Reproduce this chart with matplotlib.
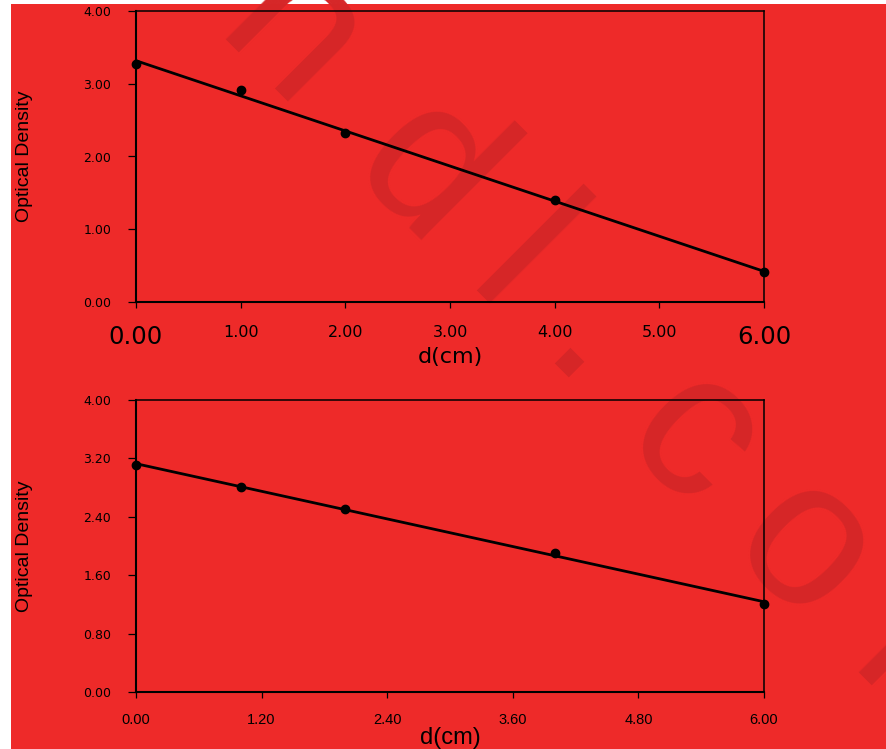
import matplotlib
matplotlib.use('Agg')
import matplotlib.pyplot as plt
import numpy as np
from matplotlib.patches import Rectangle

# data
d_cm = [0.0, 1.0, 2.0, 4.0, 6.0]
od_top = [3.27, 2.91, 2.32, 1.40, 0.41]
od_bottom = [3.11, 2.81, 2.51, 1.90, 1.21]

top_xticks = [0, 1, 2, 3, 4, 5, 6]
top_yticks = [0, 1, 2, 3, 4]
bottom_xticks = [0, 1.2, 2.4, 3.6, 4.8, 6.0]
bottom_yticks = [0, 0.8, 1.6, 2.4, 3.2, 4.0]

RED = '#EE2A29'
WM = '#D62627'

plt.rcParams['font.family'] = ['DejaVu Sans']

W, H = 886, 749
fig = plt.figure(figsize=(W / 100, H / 100), dpi=100, facecolor='white')
fig.patches.append(Rectangle((11 / W, 0), 1 - 11 / W, 1 - 4 / H,
                             transform=fig.transFigure, facecolor=RED,
                             edgecolor='none', zorder=-3))

# watermark letters along a diagonal baseline (pixel layout)
wm_letters = ['n', 'd', 'l', '.', 'c', 'o', 'm']
wm_x = [251, 386, 478, 555, 652, 764, 904]
for ch, px in zip(wm_letters, wm_x):
    py = px - 172
    fig.text(px / W, 1 - py / H, ch, fontsize=150, color=WM,
             family='Liberation Sans', rotation=-45, rotation_mode='anchor',
             ha='center', va='baseline', zorder=-2)


def style_axes(ax, x, y, xticks, yticks, xpad, xfont, xfamily):
    slope, icpt = np.polyfit(x, y, 1)
    xs = np.array([min(x), max(x)])
    ax.plot(xs, slope * xs + icpt, color='black', lw=2.0, clip_on=False, zorder=3)
    ax.plot(x, y, 'o', color='black', ms=6, clip_on=False, zorder=4)
    ax.set_xlim(0, 6)
    ax.set_ylim(0, 4)
    ax.set_facecolor('none')
    ax.set_xticks(xticks)
    ax.set_yticks(yticks)
    ax.set_xticklabels(['%.2f' % v for v in xticks], fontsize=xfont, family=xfamily)
    ax.set_yticklabels(['%.2f' % v for v in yticks], fontsize=9)
    ax.tick_params(axis='x', direction='out', length=4.3, width=0.9, pad=xpad, colors='black')
    ax.tick_params(axis='y', direction='out', length=5.8, width=0.9, pad=12, colors='black')
    for side in ['left', 'bottom']:
        ax.spines[side].set_linewidth(1.5)
    for side in ['top', 'right']:
        ax.spines[side].set_linewidth(1.1)
    ax.set_ylabel('Optical Density', fontsize=14, family='Liberation Sans')
    ax.yaxis.set_label_coords(-0.164, 0.5)


ax1 = fig.add_axes([136 / W, 1 - 302 / H, 628 / W, 291 / H])
style_axes(ax1, d_cm, od_top, top_xticks, top_yticks, 12, 11.5, 'DejaVu Sans')
labels = ax1.get_xticklabels()
labels[0].set_fontsize(17.5)
labels[-1].set_fontsize(17.5)
ax1.set_xlabel('d(cm)', fontsize=16)
ax1.xaxis.set_label_coords(0.5, -0.155)

ax2 = fig.add_axes([136 / W, 1 - 692 / H, 628 / W, 292 / H])
style_axes(ax2, d_cm, od_bottom, bottom_xticks, bottom_yticks, 11, 10.5, 'Liberation Sans')
ax2.set_xlabel('d(cm)', fontsize=17, family='Liberation Sans')
ax2.xaxis.set_label_coords(0.5, -0.12)

fig.savefig('out.png', dpi=100, facecolor='white')
